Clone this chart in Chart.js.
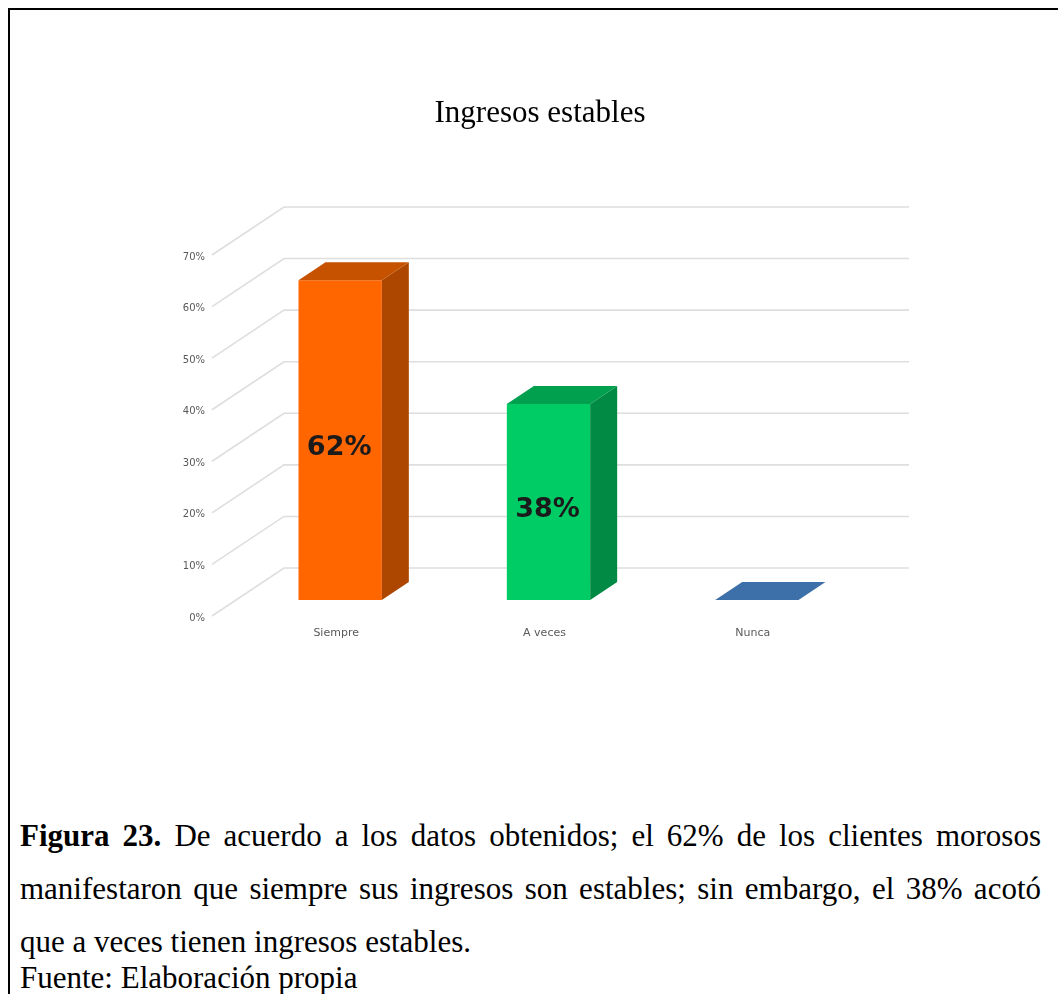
<!DOCTYPE html>
<html>
<head>
<meta charset="utf-8">
<title>Ingresos estables</title>
<script src="https://cdn.jsdelivr.net/npm/chart.js@4.4.1/dist/chart.umd.min.js"></script>
<style>
  html, body { margin: 0; padding: 0; background: #fff; }
  body { width: 1058px; height: 994px; position: relative; overflow: hidden; }
  #frame {
    position: absolute; left: 8px; top: 8px; width: 1100px; height: 1100px;
    border-left: 2px solid #000; border-top: 2px solid #000;
  }
  #chart { position: absolute; left: 0; top: 0; }
  #caption {
    position: absolute; left: 20px; top: 809px; width: 1021px;
    font-family: "Liberation Serif", "Times New Roman", serif;
    font-size: 31px; line-height: 53px; color: #000;
  }
  #caption p { margin: 0; text-align: justify; }
  #caption #source { margin-top: -17px; }
</style>
</head>
<body>
<div id="frame"></div>
<canvas id="chart" width="1058" height="680"></canvas>
<div id="caption">
  <p><b>Figura 23.</b> De acuerdo a los datos obtenidos; el 62% de los clientes morosos manifestaron que siempre sus ingresos son estables; sin embargo, el 38% acotó que a veces tienen ingresos estables.</p>
  <p id="source">Fuente: Elaboración propia</p>
</div>
<script>
// Ingresos estables - 3D column chart

const categories = ["Siempre", "A veces", "Nunca"];
const percentages = [62, 38, 0];
const yTicks = [0, 10, 20, 30, 40, 50, 60, 70];

const frontColors = ["#FF6600", "#00CC66", "#3D6FA8"];
const topColors = ["#C65200", "#00A04F", "#3D6FA8"];
const sideColors = ["#AD4700", "#008A44", "#2F5C8F"];

// floor depth (front edge -> back wall); bars sit 1/3 of the way in
const floorDepth = { dx: 72, dy: -48, front: 1 / 3 };
const barDepth = { dx: 27, dy: -18 };

const axisFont = { family: "DejaVu Sans", size: 10 };
const axisColor = "#595959";

// Draw the slanted walls / back grid and the 3D faces of the columns
const box3d = {
  id: "box3d",
  beforeDatasetsDraw(chart) {
    const { ctx, chartArea, scales } = chart;
    const y = scales.y;
    const fdx = floorDepth.dx * floorDepth.front;
    const fdy = floorDepth.dy * floorDepth.front;
    const bdx = floorDepth.dx - fdx;
    const bdy = floorDepth.dy - fdy;

    ctx.save();
    ctx.strokeStyle = "#DEDEDE";
    ctx.lineWidth = 1.6;
    yTicks.forEach((v) => {
      const py = y.getPixelForValue(v);
      ctx.beginPath();
      ctx.moveTo(chartArea.left - fdx, py - fdy);
      ctx.lineTo(chartArea.left + bdx, py + bdy);
      ctx.lineTo(chartArea.right + bdx, py + bdy);
      ctx.stroke();
    });
    ctx.restore();
  },
  afterDatasetsDraw(chart) {
    const { ctx } = chart;
    const meta = chart.getDatasetMeta(0);

    ctx.save();
    meta.data.forEach((bar, i) => {
      const { x, y, base, width } = bar.getProps(["x", "y", "base", "width"], true);
      const left = x - width / 2;
      const right = x + width / 2;
      const top = Math.min(y, base);
      const bottom = Math.max(y, base);

      // side face
      if (bottom - top > 0.5) {
        ctx.fillStyle = sideColors[i];
        ctx.beginPath();
        ctx.moveTo(right, top);
        ctx.lineTo(right + barDepth.dx, top + barDepth.dy);
        ctx.lineTo(right + barDepth.dx, bottom + barDepth.dy);
        ctx.lineTo(right, bottom);
        ctx.closePath();
        ctx.fill();
      }

      // top face
      ctx.fillStyle = topColors[i];
      ctx.beginPath();
      ctx.moveTo(left, top);
      ctx.lineTo(left + barDepth.dx, top + barDepth.dy);
      ctx.lineTo(right + barDepth.dx, top + barDepth.dy);
      ctx.lineTo(right, top);
      ctx.closePath();
      ctx.fill();

      // value label on the front face
      if (percentages[i] > 0) {
        ctx.fillStyle = "#1B1B1B";
        ctx.font = "bold 27px 'DejaVu Sans'";
        ctx.textAlign = "center";
        ctx.textBaseline = "middle";
        ctx.fillText(percentages[i] + "%", x - 1, (top + bottom) / 2 + 8);
      }
    });
    ctx.restore();
  },
};

new Chart(document.getElementById("chart"), {
  type: "bar",
  data: {
    labels: categories,
    datasets: [
      {
        data: percentages,
        backgroundColor: frontColors,
        borderWidth: 0,
        barPercentage: 0.4,
        categoryPercentage: 1,
      },
    ],
  },
  options: {
    responsive: false,
    animation: false,
    events: [],
    layout: { padding: { left: 22, right: 0, top: 0, bottom: 0 } },
    plugins: {
      legend: { display: false },
      tooltip: { enabled: false },
      title: {
        display: true,
        text: "Ingresos estables",
        color: "#000",
        font: { family: "Liberation Serif", size: 31, weight: "normal", lineHeight: 1 },
        padding: { top: 98, bottom: 110 },
      },
    },
    scales: {
      x: {
        grid: { display: false, drawTicks: false },
        border: { display: false },
        afterFit: (s) => {
          s.height = 80;
        },
        ticks: { padding: 27, labelOffset: -4, color: axisColor, font: { family: "DejaVu Sans", size: 11 } },
      },
      y: {
        min: 0,
        max: 70,
        grid: { display: false, drawTicks: false, tickLength: 0 },
        border: { display: false },
        afterBuildTicks: (s) => {
          s.ticks = yTicks.map((v) => ({ value: v }));
        },
        afterFit: (s) => {
          s.width = 214;
        },
        ticks: {
          padding: 31,
          labelOffset: 18,
          color: axisColor,
          font: axisFont,
          callback: (v) => v + "%",
        },
      },
      // empty scale that only reserves the room on the right
      spacer: {
        type: "linear",
        position: "right",
        min: 0,
        max: 1,
        grid: { display: false, drawTicks: false },
        border: { display: false },
        ticks: { display: false },
        afterFit: (s) => {
          s.width = 197;
        },
      },
    },
  },
  plugins: [box3d],
});
</script>
</body>
</html>
